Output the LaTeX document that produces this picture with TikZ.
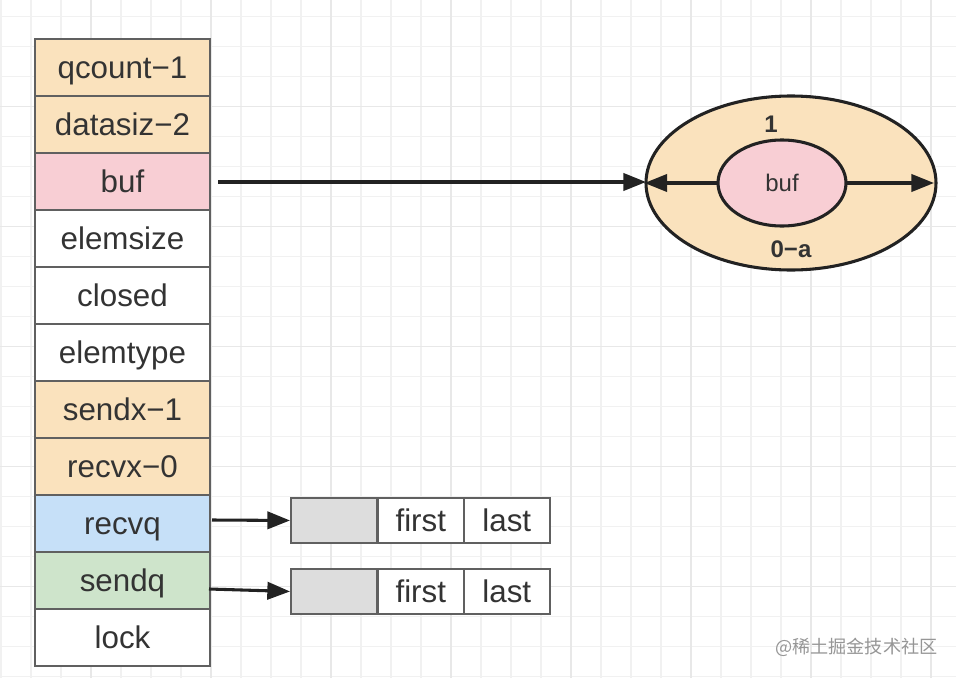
\documentclass[tikz,border=0pt]{standalone}
\usepackage{fontspec}
\setmainfont{Liberation Sans}
\newfontfamily\cjkfont{Noto Sans CJK SC}
\usetikzlibrary{arrows.meta,shapes.geometric}
\definecolor{cOrange}{RGB}{250,226,189}
\definecolor{cPink}{RGB}{248,206,212}
\definecolor{cBlue}{RGB}{198,224,248}
\definecolor{cGreen}{RGB}{206,228,203}
\definecolor{cGray}{RGB}{221,221,221}
\definecolor{cBorder}{RGB}{96,96,96}
\definecolor{cText}{RGB}{51,51,51}
\definecolor{cLine}{RGB}{34,34,34}
\definecolor{gridMinor}{RGB}{241,241,241}
\definecolor{gridMajor}{RGB}{232,232,232}
\tikzset{
  field/.style={draw=cBorder, line width=1.5pt, minimum width=131.25pt, minimum height=42.75pt, inner sep=0pt, anchor=north west, text=cText, font=\fontsize{23.5}{26}\selectfont, text height=16.8pt, text depth=0pt},
  qcell/.style={draw=cBorder, line width=1.2pt, minimum width=64.5pt, minimum height=34pt, inner sep=0pt, anchor=north west, text=cText, font=\fontsize{23.5}{26}\selectfont, text height=16.8pt, text depth=0pt},
  conn/.style={draw=cLine, line width=2.3pt, -{Triangle[length=17pt,width=13pt]}},
}
\begin{document}
\begin{tikzpicture}[x=0.75pt,y=-0.75pt]
\useasboundingbox (0,0) rectangle (956,678);
\fill[white] (0,0) rectangle (956,678);
% grid
\foreach \gx in {1,31,...,955} \draw[gridMinor, line width=0.9pt] (\gx,0) -- (\gx,678);
\foreach \gy in {16.5,46.5,...,678} \draw[gridMinor, line width=0.9pt] (0,\gy) -- (956,\gy);
\foreach \gx in {91,211,...,955} \draw[gridMajor, line width=0.9pt] (\gx,0) -- (\gx,678);
\foreach \gy in {106.5,226.5,...,678} \draw[gridMajor, line width=0.9pt] (0,\gy) -- (956,\gy);
% struct fields
\node[field, fill=cOrange] (qcount) at (34,38) {qcount−1};
\node[field, fill=cOrange] (datasiz) at (34,95) {datasiz−2};
\node[field, fill=cPink] (buf) at (34,152) {buf};
\node[field, fill=white] (elemsize) at (34,209) {elemsize};
\node[field, fill=white] (closed) at (34,266) {closed};
\node[field, fill=white] (elemtype) at (34,323) {elemtype};
\node[field, fill=cOrange] (sendx) at (34,380) {sendx−1};
\node[field, fill=cOrange] (recvx) at (34,437) {recvx−0};
\node[field, fill=cBlue] (recvq) at (34,494) {recvq};
\node[field, fill=cGreen] (sendq) at (34,551) {sendq};
\node[field, fill=white] (lock) at (34,608) {lock};
% buffer ellipses
\node[ellipse, draw=cLine, line width=2.3pt, fill=cOrange, minimum width=217.5pt, minimum height=130.5pt, inner sep=0pt] (outer) at (791,183) {};
\node[ellipse, draw=cLine, line width=2.3pt, fill=cPink, minimum width=96pt, minimum height=64.5pt, inner sep=0pt, text=cText, font=\fontsize{18}{20}\selectfont] (inner) at (782,183) {buf};
\node[text=cText, font=\bfseries\fontsize{18}{20}\selectfont] (lblone) at (771,124) {1};
\node[text=cText, font=\bfseries\fontsize{18}{20}\selectfont] (lblzero) at (791,249) {0−a};
% queues
\node[qcell, fill=cGray] (rq0) at (290,497) {};
\node[qcell, fill=white] (rq1) at (377,497) {first};
\node[qcell, fill=white] (rq2) at (463,497) {last};
\node[qcell, fill=cGray] (sq0) at (290,568) {};
\node[qcell, fill=white] (sq1) at (377,568) {first};
\node[qcell, fill=white] (sq2) at (463,568) {last};
% connectors
\coordinate (bufstart) at (218,182);
\coordinate (outerL) at (646,182);
\coordinate (outerR) at (934,183);
\coordinate (innerL) at (718,183);
\coordinate (innerR) at (847,183);
\coordinate (rqstart) at (212,520);
\coordinate (sqstart) at (209,589);
\draw[conn] (bufstart) -- (outerL);
\draw[conn] (innerL) -- (outer.west);
\draw[conn] (innerR) -- (outerR);
\draw[conn] (rqstart) -- (rq0.west);
\draw[conn] (sqstart) -- (sq0.west);
% watermark
\node[text={rgb,255:red,150;green,150;blue,150}, font=\cjkfont\fontsize{13.6}{15}\selectfont, anchor=west, inner sep=0pt] (wm) at (775,647) {@稀土掘金技术社区};
\end{tikzpicture}
\end{document}
